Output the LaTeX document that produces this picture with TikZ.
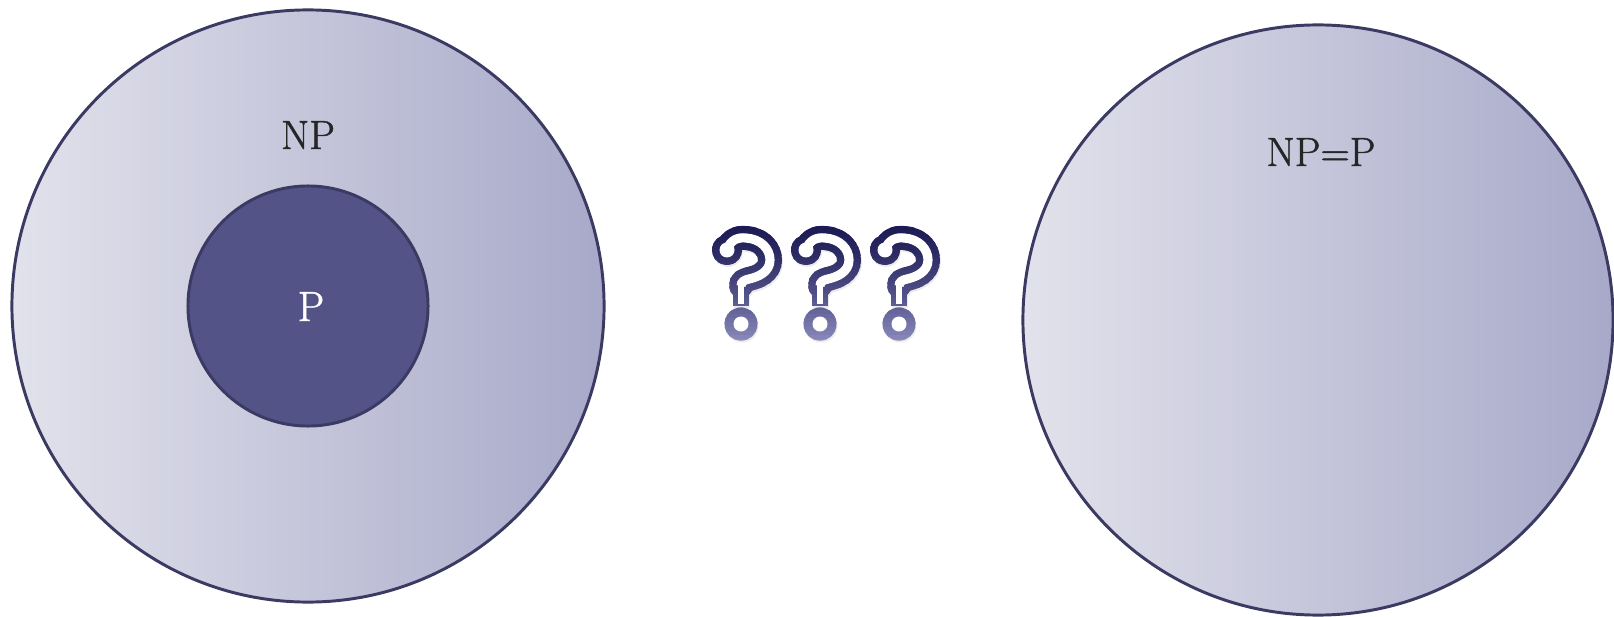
\documentclass[tikz,border=0pt]{standalone}
\usepackage{fontspec}
\usepackage{tikz}
\newfontfamily\labfont{Latin Modern Roman}[FakeBold=1.2]
\definecolor{setrim}{RGB}{59,58,99}
\definecolor{setlight}{RGB}{226,226,236}
\definecolor{setdark}{RGB}{168,169,201}
\definecolor{pcore}{RGB}{83,83,135}
\definecolor{labink}{RGB}{38,38,38}
\definecolor{qtop}{RGB}{28,26,84}
\definecolor{qbot}{RGB}{138,138,188}
\tikzset{
  bigset/.style={circle,draw=setrim,line width=2.1pt,
    left color=setlight,right color=setdark,inner sep=0pt},
  coreset/.style={circle,draw=setrim,line width=2.1pt,fill=pcore,
    inner sep=0pt,minimum size=6cm},
  setlab/.style={font=\labfont\fontsize{29}{35}\selectfont,text=labink,inner sep=0pt},
  corelab/.style={font=\labfont\fontsize{30}{36}\selectfont,text=white,inner sep=0pt}
}
% one question mark, centred on its dot
\newcommand{\qhook}{(-14,-74) .. controls (-11,-84) and (-3,-87) .. (5,-86)
  .. controls (20,-85) and (29,-75) .. (29,-64)
  .. controls (29,-52) and (17,-47) .. (8,-45)
  .. controls (3,-44) and (0,-42) .. (0,-38)}
\newcommand{\qouter}{%
  \draw[line width=17pt,line cap=round] \qhook;
  \draw[line width=11pt] (0,-41) -- (0,-18);
  \fill (-14,-74) circle[radius=15];
  \fill (0,0) circle[radius=16.5];}
\newcommand{\qinner}{%
  \draw[white,line width=6.5pt] \qhook;
  \draw[white,line width=4pt] (0,-39) -- (0,-20);
  \fill[white] (-14,-74) circle[radius=7.5];
  \fill[white] (0,0) circle[radius=7.5];}

\begin{document}
\begin{tikzpicture}[x=0.025cm,y=-0.025cm]
  \useasboundingbox (0,0) rectangle (1614,617);
  \node[bigset,minimum size=14.8cm] (npset) at (308,306) {};
  \node[coreset] (pset) at (308,306) {};
  \node[bigset,minimum size=14.75cm] (eqset) at (1318,320) {};
  \node[setlab,anchor=base] (nplab) at (308,149) {NP};
  \node[corelab,anchor=base] (plab) at (311,321) {P};
  \node[setlab,anchor=base] (eqlab) at (1321,166) {NP=P};
  % shadow
  \begin{scope}[black!8]
    \foreach \qx in {741,820,899} {
      \begin{scope}[shift={(\qx+1,326)}] \qouter \end{scope}
    }
  \end{scope}
  % gradient in bands
  \foreach \i in {0,...,29} {
    \pgfmathsetmacro\p{100*(\i/29)^1.4}
    \begin{scope}[qbot!\p!qtop]
      \clip (690,223+4*\i) rectangle (950,228+4*\i);
      \foreach \qx in {741,820,899} {
        \begin{scope}[shift={(\qx,324)}] \qouter \end{scope}
      }
    \end{scope}
  }
  \foreach \qx in {741,820,899} {
    \begin{scope}[shift={(\qx,324)}] \qinner \end{scope}
  }
\end{tikzpicture}
\end{document}
